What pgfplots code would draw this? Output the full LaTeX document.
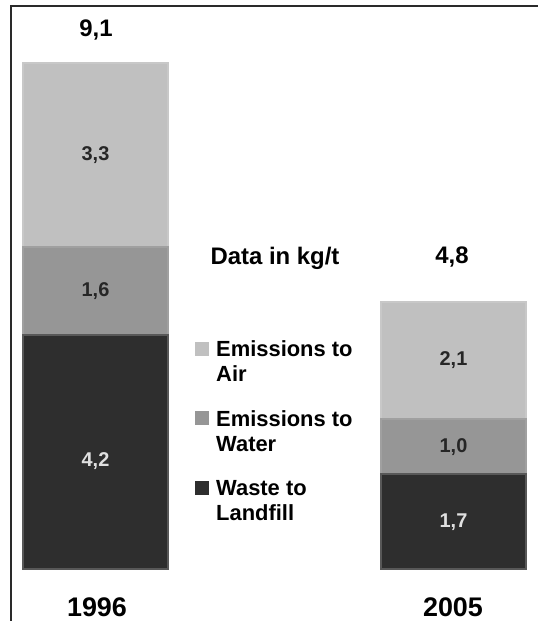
\documentclass[border=0pt]{standalone}
\usepackage{pgfplots}
\pgfplotsset{compat=1.18}
\usepackage{fontspec}
\setmainfont{Liberation Sans}

\definecolor{airfill}{HTML}{C0C0C0}
\definecolor{airedge}{HTML}{C8C8C8}
\definecolor{waterfill}{HTML}{969696}
\definecolor{wateredge}{HTML}{A0A0A0}
\definecolor{landfill}{HTML}{2E2E2E}
\definecolor{landedge}{HTML}{585858}
\definecolor{framecol}{HTML}{2A2A2A}

\newcommand{\twolines}[2]{\begin{tabular}{@{}l@{}}#1\\[-1bp]#2\end{tabular}}

\pgfplotsset{
  canvas/.style={
    scale only axis, width=538bp, height=621bp,
    xmin=0, xmax=538, ymin=-0.935, ymax=10.234,
    hide axis, clip=false,
  },
}

% segment values placed at the middle of each segment
\pgfplotstableread{
x     y     lab
95.5  5.0   1,6
95.5  7.45  3,3
453.5 2.2   1,0
453.5 3.75  2,1
}\lightlabels
\pgfplotstableread{
x     y     lab
95.5  1.95  4,2
453.5 0.85  1,7
}\darklabels

\begin{document}
\begin{tikzpicture}
\begin{axis}[
  canvas,
  ybar stacked, bar width=145,
  reverse legend,
  area legend,
  legend image code/.code={\fill[#1, draw=none] (0bp,-1bp) rectangle (14bp,13bp);},
  legend style={
    at={(axis cs:195,4.185)}, anchor=north west,
    draw=none, fill=none, inner sep=0pt,
    font=\fontsize{22}{26}\selectfont\bfseries,
    legend cell align=left,
    column sep=5bp, row sep=33.5bp,
  },
]
% stacked from the bottom: landfill, water, air
\addplot[fill=landfill, draw=landedge, line width=2bp] coordinates {(95.5,4.2) (453.5,1.7)};
\addlegendentry{\twolines{Waste to}{Landfill}}
\addplot[fill=waterfill, draw=wateredge, line width=2bp] coordinates {(95.5,1.6) (453.5,1.0)};
\addlegendentry{\twolines{Emissions to}{Water}}
\addplot[fill=airfill, draw=airedge, line width=2bp] coordinates {(95.5,3.3) (453.5,2.1)};
\addlegendentry{\twolines{Emissions to}{Air}}

% frame on the left and top
\draw[framecol, line width=2bp] (axis cs:11,-0.935) -- (axis cs:11,10.126) -- (axis cs:538,10.126);

\coordinate (sw) at (rel axis cs:0,0);
\coordinate (ne) at (rel axis cs:1,1);
\end{axis}

% labels drawn over the bars
\begin{axis}[canvas]
\addplot[draw=none, mark=none, nodes near coords, point meta=explicit symbolic,
  every node near coord/.append style={anchor=center, text=black!85,
    font=\fontsize{20}{22}\selectfont\bfseries}]
  table[x=x, y=y, meta=lab] {\lightlabels};
\addplot[draw=none, mark=none, nodes near coords, point meta=explicit symbolic,
  every node near coord/.append style={anchor=center, text=white!88!black,
    font=\fontsize{20}{22}\selectfont\bfseries}]
  table[x=x, y=y, meta=lab] {\darklabels};

% totals, unit and years
\node[font=\fontsize{24}{26}\selectfont\bfseries] at (axis cs:96,9.69) {9,1};
\node[font=\fontsize{24}{26}\selectfont\bfseries] at (axis cs:452,5.61) {4,8};
\node[font=\fontsize{24}{26}\selectfont\bfseries] at (axis cs:275,5.58) {Data in kg/t};
\node[font=\fontsize{27}{30}\selectfont\bfseries] at (axis cs:97,-0.68) {1996};
\node[font=\fontsize{27}{30}\selectfont\bfseries] at (axis cs:453,-0.68) {2005};
\end{axis}
\pgfresetboundingbox
\path (sw) rectangle (ne);
\end{tikzpicture}
\end{document}
